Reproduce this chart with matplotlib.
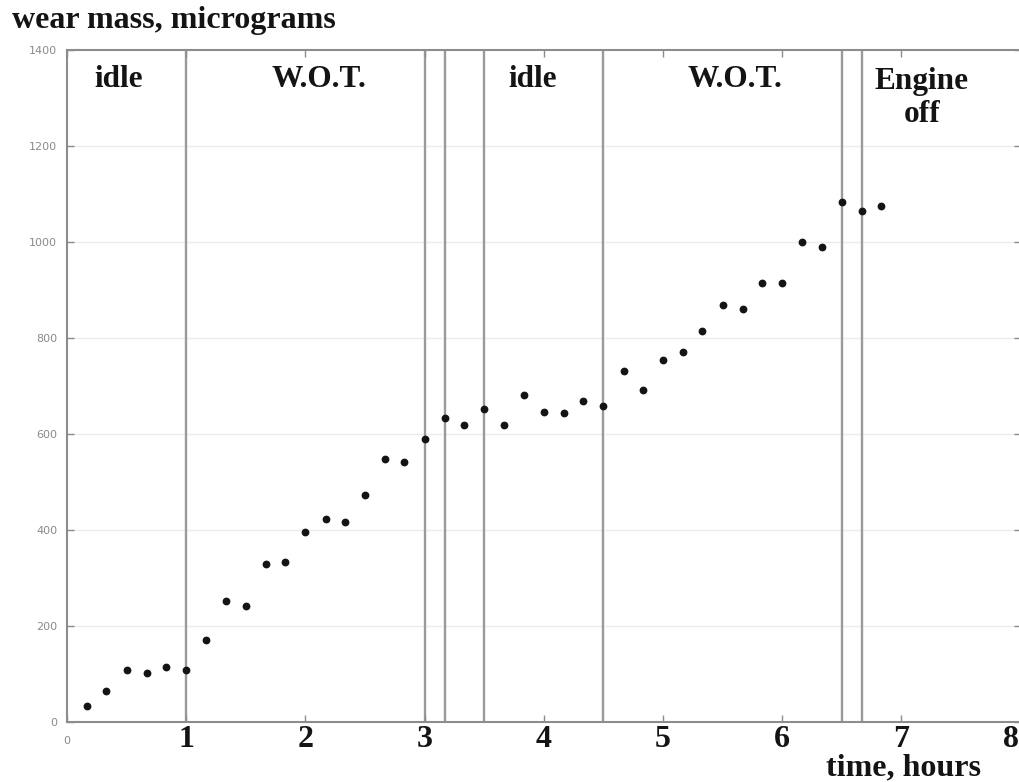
import matplotlib
matplotlib.use("Agg")
import matplotlib.pyplot as plt
from matplotlib.transforms import ScaledTranslation

# wear debris mass sampled every 10 minutes
time_h = [0.17, 0.33, 0.50, 0.67, 0.83, 1.00, 1.17, 1.33, 1.50, 1.67,
          1.83, 2.00, 2.17, 2.33, 2.50, 2.67, 2.83, 3.00, 3.17, 3.33,
          3.50, 3.67, 3.83, 4.00, 4.17, 4.33, 4.50, 4.67, 4.83, 5.00,
          5.17, 5.33, 5.50, 5.67, 5.83, 6.00, 6.17, 6.33, 6.50, 6.67,
          6.83]
wear_ug = [33, 65, 108, 102, 115, 108, 171, 252, 242, 329,
           333, 396, 423, 417, 473, 548, 542, 590, 633, 619,
           652, 619, 681, 646, 644, 669, 658, 731, 692, 754,
           771, 815, 869, 860, 915, 915, 1000, 990, 1083, 1065,
           1075]

# engine regime boundaries and names
phase_edges = [1.0, 3.0, 3.17, 3.5, 4.5, 6.5, 6.67]
phase_names = ["idle", "W.O.T.", "idle", "W.O.T.", "Engine\noff"]
phase_x = [0.43, 2.11, 3.91, 5.60, 7.17]

x_ticks = [0, 1, 2, 3, 4, 5, 6, 7, 8]
y_ticks = [0, 200, 400, 600, 800, 1000, 1200, 1400]

serif = ["Liberation Serif", "DejaVu Serif"]
ink = "#141414"
grey = "#8c8c8c"

fig = plt.figure(figsize=(10.19, 7.82), dpi=100)
ax = fig.add_axes([67 / 1019, 60 / 782, 953.6 / 1019, 672 / 782])

ax.set_xlim(0, 8)
ax.set_ylim(0, 1400)

for y in y_ticks[1:-1]:
    ax.axhline(y, color="#ececec", lw=1.0, zorder=0)

for x in phase_edges:
    ax.axvline(x, color="#9a9a9a", lw=1.7, zorder=1)

ax.plot(time_h, wear_ug, ls="none", marker="o", ms=4.6,
        color=ink, mec=ink, zorder=3)

for name, x in zip(phase_names, phase_x):
    y = 1250 if "\n" in name else 1323
    ax.text(x, y, name, ha="center", va="baseline", family=serif,
            fontweight="bold", fontsize=22.5, color=ink, linespacing=1.2)

for s in ax.spines.values():
    s.set_color(grey)
    s.set_linewidth(1.5)

ax.tick_params(direction="in", length=5, width=1, color=grey,
               top=True, right=True)
ax.set_yticks(y_ticks)
ax.set_yticklabels([str(v) for v in y_ticks], fontsize=8, color="#8a8a8a")
ax.tick_params(axis="y", pad=7)

ax.set_xticks(x_ticks)
ax.set_xticklabels([str(v) for v in x_ticks])
for i, (tick, lab) in enumerate(zip(ax.xaxis.get_major_ticks(),
                                    ax.get_xticklabels())):
    if i == 0:
        lab.set_fontsize(8)
        lab.set_color("#8a8a8a")
        tick.set_pad(10)
    else:
        lab.set_family(serif)
        lab.set_fontweight("bold")
        lab.set_fontsize(23)
        lab.set_color(ink)
        tick.set_pad(2)

# last label sits against the right edge, nudge it inwards
last = ax.get_xticklabels()[-1]
last.set_transform(last.get_transform()
                   + ScaledTranslation(-0.1, 0, fig.dpi_scale_trans))

fig.text(12 / 1019, 1 - 28 / 782, "wear mass, micrograms", family=serif,
         fontweight="bold", fontsize=23, color=ink, va="baseline")
fig.text(826 / 1019, 1 - 775 / 782, "time, hours", family=serif,
         fontweight="bold", fontsize=23, color=ink, va="baseline")

fig.savefig("out.png", dpi=100)
